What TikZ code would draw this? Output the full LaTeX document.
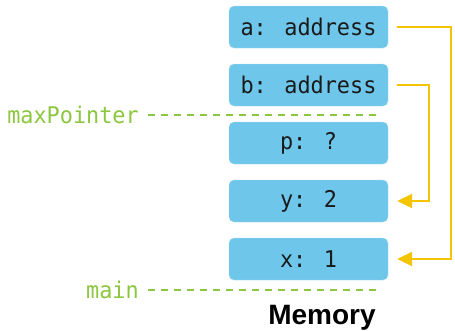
\documentclass[tikz,border=0pt]{standalone}
\usepackage{fontspec}
\newfontfamily\codefont[FakeStretch=0.95]{DejaVu Sans Mono}
\newfontfamily\memfont{Liberation Sans}
\usetikzlibrary{arrows.meta}
\definecolor{boxblue}{HTML}{6EC6EA}
\definecolor{lgreen}{HTML}{8DC63F}
\definecolor{ptryellow}{HTML}{F5C400}
\definecolor{codetext}{HTML}{1A1A1A}
\begin{document}
\begin{tikzpicture}[x=1pt,y=-1pt,
  cell/.style={fill=boxblue,draw=boxblue!60!white,rounded corners=5pt,minimum width=159pt,minimum height=42pt,inner sep=0pt,text=codetext,font=\codefont\fontsize{23}{26}\selectfont},
  frameline/.style={draw=lgreen,line width=2pt,dash pattern=on 7pt off 6pt},
  framelabel/.style={text=lgreen,font=\codefont\fontsize{23}{26}\selectfont,anchor=east,inner sep=0pt},
  ptr/.style={draw=ptryellow,line width=2pt,-{Triangle[length=15pt,width=14pt]}}]
\useasboundingbox (0,0) rectangle (455,330);
\node[cell] (a) at (308.5,27) {a: address};
\node[cell] (b) at (308.5,85) {b: address};
\node[cell] (p) at (308.5,143) {p: ?};
\node[cell] (y) at (308.5,201) {y: 2};
\node[cell] (x) at (308.5,259) {x: 1};
\node[framelabel] (maxp) at (139,115) {maxPointer};
\node[framelabel] (mainl) at (139,290) {main};
\coordinate (maxe) at (381,115);
\coordinate (maine) at (381,290);
\draw[frameline] ([xshift=9pt]maxp.east) -- (maxe);
\draw[frameline] ([xshift=9pt]mainl.east) -- (maine);
\node[font=\memfont\bfseries\fontsize{28}{30}\selectfont,inner sep=0pt] (mem) at (322,318) {Memory};
\draw[ptr] ([xshift=9pt]a.east) -- ++(54,0) |- ([xshift=9pt]x.east);
\draw[ptr] ([xshift=9pt]b.east) -- ++(32,0) |- ([xshift=9pt]y.east);
\end{tikzpicture}
\end{document}
